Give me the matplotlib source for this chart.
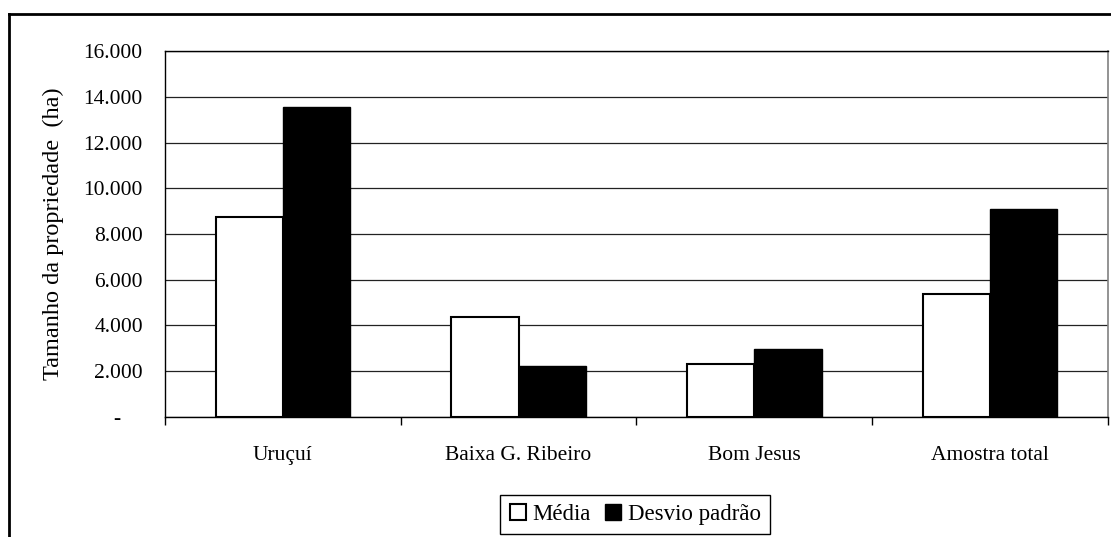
import numpy as np
import matplotlib.pyplot as plt
from matplotlib.lines import Line2D
from matplotlib.ticker import FuncFormatter, FixedLocator

plt.rcParams['font.family'] = ['Liberation Serif', 'DejaVu Serif']

categorias = ['Uruçuí', 'Baixa G. Ribeiro', 'Bom Jesus', 'Amostra total']
media = [8750, 4390, 2320, 5380]
desvio = [13560, 2240, 2990, 9080]
series = ['Média', 'Desvio padrão']
yticks = np.arange(0, 16001, 2000)

fs = 15.5
fig = plt.figure(figsize=(11.11, 5.37), dpi=100)
ax = fig.add_axes([0.1485, 0.2235, 0.8488, 0.6815])

x = np.arange(len(categorias))
w = 1 / 3.5  # gap width 150%
ax.bar(x - w / 2, media, w, color='white', edgecolor='black', linewidth=1.5,
       label=series[0], zorder=3)
ax.bar(x + w / 2, desvio, w, color='black', edgecolor='black', linewidth=1.0,
       label=series[1], zorder=3)

ax.set_xlim(-0.5, len(categorias) - 0.5)
ax.set_ylim(0, 16000)

def fmt(v, pos):
    if v == 0:
        return '-    '
    return f'{int(v):,}'.replace(',', '.')

ax.yaxis.set_major_locator(FixedLocator(yticks))
ax.yaxis.set_major_formatter(FuncFormatter(fmt))
ax.tick_params(axis='y', length=0, pad=16, labelsize=fs)
ax.grid(axis='y', color='#222222', linewidth=0.9, zorder=0)

ax.set_xticks(x)
ax.set_xticklabels(categorias, fontsize=fs)
ax.tick_params(axis='x', which='major', length=0, pad=21)
ax.set_xticks(np.arange(-0.5, len(categorias)), minor=True)
ax.tick_params(axis='x', which='minor', length=6, width=1.0, direction='out')

for s in ['left', 'bottom', 'top']:
    ax.spines[s].set_color('black')
    ax.spines[s].set_linewidth(1.0)
ax.spines['right'].set_color('#808080')
ax.spines['right'].set_linewidth(1.2)

ax.set_ylabel('Tamanho da propriedade  (ha)', fontsize=17.5)
ax.yaxis.set_label_coords(-0.107, 0.5)

leg = ax.legend(loc='center', bbox_to_anchor=(0.5716, 0.0419),
                bbox_transform=fig.transFigure, ncol=2, fontsize=fs + 1,
                frameon=True, fancybox=False, edgecolor='black', framealpha=1,
                handlelength=0.7, handleheight=0.7, handletextpad=0.3,
                columnspacing=0.6, borderpad=0.4, borderaxespad=0)
leg.get_frame().set_linewidth(1.0)

# moldura externa do gráfico (topo e lado esquerdo)
fig.add_artist(Line2D([9 / 1111, 1.0], [1 - 14 / 537] * 2, color='black',
                      linewidth=2, transform=fig.transFigure))
fig.add_artist(Line2D([9 / 1111] * 2, [0.0, 1 - 14 / 537], color='black',
                      linewidth=2, transform=fig.transFigure))

fig.savefig('out.png', dpi=100)
